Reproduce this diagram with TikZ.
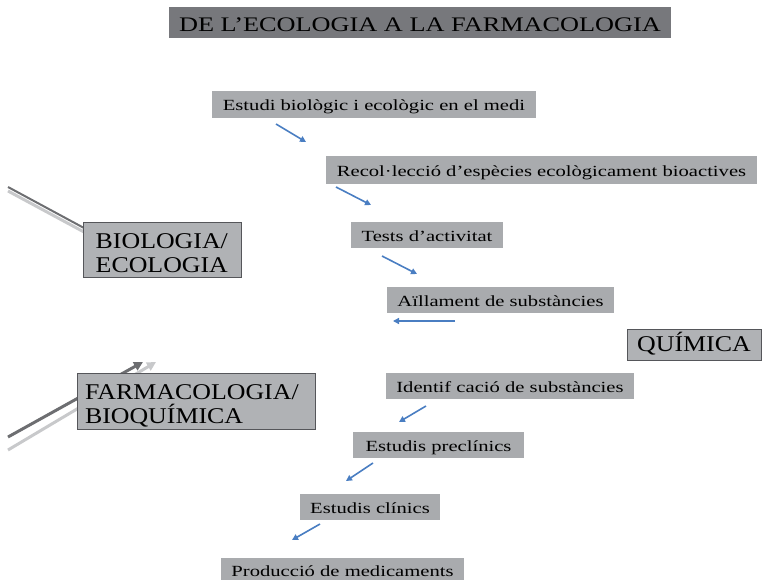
\documentclass[tikz,border=0pt]{standalone}
\usepackage{fontspec}
\setmainfont{Liberation Serif}
\newfontfamily\stepfont[FakeStretch=1.33]{Liberation Serif}
\newfontfamily\titlefont[FakeStretch=1.27]{Liberation Serif}
\newfontfamily\bigfont[FakeStretch=1.15]{Liberation Serif}
\usetikzlibrary{arrows.meta}
\definecolor{titlegray}{HTML}{77787C}
\definecolor{boxgray}{HTML}{A9ABAE}
\definecolor{biggray}{HTML}{B0B2B5}
\definecolor{bordergray}{HTML}{55565A}
\definecolor{arrowblue}{HTML}{4A7EC2}
\definecolor{darkline}{HTML}{6D6E71}
\definecolor{lightline}{HTML}{C8C9CB}
\tikzset{
  stepbox/.style={fill=boxgray, inner sep=0pt, text height=13pt, text depth=1pt, font=\stepfont\fontsize{15.5}{17}\selectfont},
  bigbox/.style={fill=biggray, draw=bordergray, line width=0.8pt, inner sep=0pt, align=left, font=\bigfont\fontsize{22.5}{24.2}\selectfont},
  flow/.style={draw=arrowblue, line width=1.6pt, -{Triangle[length=6pt,width=6pt]}},
}
\begin{document}
\begin{tikzpicture}[x=1pt,y=-1pt]
\useasboundingbox (0,0) rectangle (762,580);
% side connectors (behind boxes)
\coordinate (b0) at (8,187);
\coordinate (b0l) at (8,191);
\coordinate (f0) at (8,437);
\coordinate (f0l) at (8,450);
\coordinate (fd) at (143,362);
\coordinate (fl) at (156,362);
\draw[lightline, line width=3pt] (b0l) -- (84,232);
\draw[darkline, line width=2pt] (b0) -- (84,228);
\draw[lightline, line width=3pt, -{Triangle[length=9pt,width=9pt]}] (f0l) -- (fl);
\draw[darkline, line width=3pt, -{Triangle[length=9pt,width=9pt]}] (f0) -- (fd);
% title
\node[fill=titlegray, minimum width=502pt, minimum height=31pt, inner sep=0pt, text height=19pt, text depth=1pt, font=\titlefont\fontsize{20.7}{24}\selectfont] (title) at (420,22.2) {DE L’ECOLOGIA A LA FARMACOLOGIA};
% steps
\node[stepbox, minimum width=324pt, minimum height=26.5pt] (s1) at (374,104.7) {Estudi biològic i ecològic en el medi};
\node[stepbox, minimum width=431pt, minimum height=28pt] (s2) at (541.5,170) {Recol·lecció d’espècies ecològicament bioactives};
\node[stepbox, minimum width=152pt, minimum height=26pt] (s3) at (427,235) {Tests d’activitat};
\node[stepbox, minimum width=227pt, minimum height=26pt] (s4) at (500.5,300) {Aïllament de substàncies};
\node[stepbox, minimum width=248pt, minimum height=26pt] (s5) at (510,386) {Identif cació de substàncies};
\node[stepbox, minimum width=171pt, minimum height=26pt] (s6) at (438.5,445) {Estudis preclínics};
\node[stepbox, minimum width=140pt, minimum height=26pt] (s7) at (370,507) {Estudis clínics};
\node[stepbox, minimum width=243pt, minimum height=24pt] (s8) at (342.5,570) {Producció de medicaments};
% big boxes
\node[bigbox, minimum width=158.4pt, minimum height=55.4pt, text width=133.6pt, inner xsep=12.4pt] (bio) at (162.5,250) {\rule{0pt}{21pt}BIOLOGIA/\\ECOLOGIA};
\node[bigbox, minimum width=238pt, minimum height=56.7pt, text width=222pt, inner xsep=8pt] (farma) at (196,401.3) {\rule{0pt}{24.5pt}FARMACOLOGIA/\\BIOQUÍMICA};
\node[bigbox, minimum width=134pt, minimum height=31.7pt, align=center, text height=16pt, text depth=2pt] (quim) at (694,344.8) {QUÍMICA};
% blue arrows
\coordinate (a1s) at (276,124); \coordinate (a1e) at (306,142);
\coordinate (a2s) at (336,187); \coordinate (a2e) at (371,205);
\coordinate (a3s) at (382,256); \coordinate (a3e) at (417,274);
\coordinate (a4s) at (455,321); \coordinate (a4e) at (393,321);
\coordinate (a5s) at (426,406); \coordinate (a5e) at (399,422);
\coordinate (a6s) at (373,463); \coordinate (a6e) at (346,481);
\coordinate (a7s) at (320,524); \coordinate (a7e) at (292,540);
\draw[flow] (a1s) -- (a1e);
\draw[flow] (a2s) -- (a2e);
\draw[flow] (a3s) -- (a3e);
\draw[flow] (a4s) -- (a4e);
\draw[flow] (a5s) -- (a5e);
\draw[flow] (a6s) -- (a6e);
\draw[flow] (a7s) -- (a7e);
\end{tikzpicture}
\end{document}
